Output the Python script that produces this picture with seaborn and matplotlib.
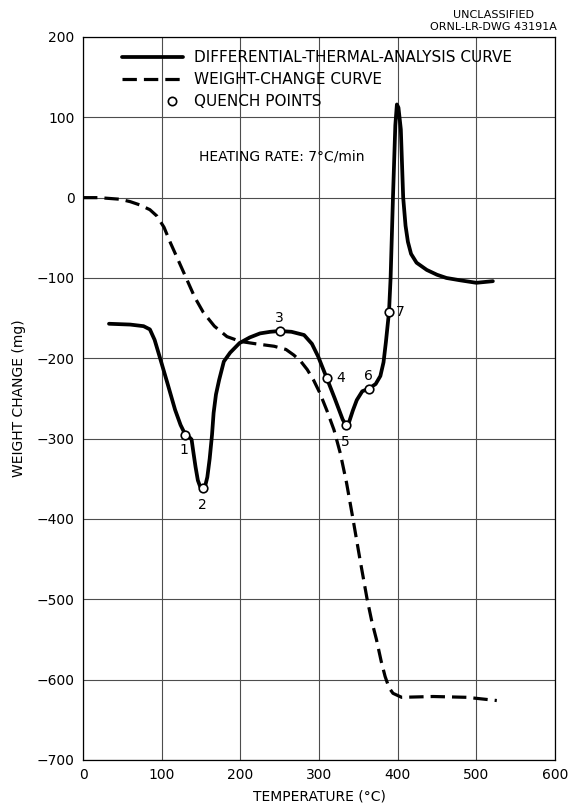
import matplotlib
matplotlib.use("Agg")
import matplotlib.pyplot as plt
import seaborn as sns
import pandas as pd
from matplotlib.lines import Line2D
from matplotlib.legend_handler import HandlerLine2D

# ---- data ----
dta_temp = [33, 60, 77, 85, 91, 98, 107, 117, 124, 130, 134, 138, 140, 143, 146, 149, 152, 155,
            158, 161, 164, 166, 169, 173, 179, 187, 199, 212, 225, 238, 250, 265, 281, 291, 299,
            310, 320, 330, 334, 338, 343, 348, 355, 363, 372, 378, 382, 385, 389, 391, 394, 397,
            399, 401, 404, 407, 410, 413, 417, 424, 437, 450, 462, 480, 500, 521]
dta_weight = [-157, -158, -160, -164, -177, -200, -230, -264, -283, -295, -297, -301, -315, -335,
              -352, -360, -362, -360, -348, -325, -295, -268, -245, -227, -204, -193, -181, -174,
              -169, -167, -166, -167, -171, -182, -198, -225, -250, -276, -283, -280, -265, -252,
              -241, -238, -232, -222, -205, -180, -142, -100, 0, 90, 116, 112, 85, 0, -35, -55,
              -70, -81, -90, -96, -100, -103, -106, -104]

wc_temp = [0, 20, 47, 60, 72, 85, 94, 103, 111, 122, 132, 142, 153, 167, 183, 200, 220, 243, 258,
           268, 277, 285, 293, 301, 310, 319, 327, 335, 343, 352, 361, 367, 373, 379, 384, 389,
           394, 405, 445, 488, 526]
wc_weight = [0, 0, -2, -5, -9, -15, -23, -37, -56, -80, -102, -124, -143, -160, -173, -179, -182,
             -185, -189, -196, -204, -214, -227, -243, -265, -289, -318, -355, -399, -450, -499,
             -527, -550, -577, -596, -610, -617, -622, -621, -622, -626]

quench_temp = [130, 152, 250, 310, 334, 363, 389]
quench_weight = [-295, -362, -166, -225, -283, -238, -142]
quench_labels = ["1", "2", "3", "4", "5", "6", "7"]
# label offsets in points (dx, dy)
quench_offsets = [(-1, -11), (0, -12), (0, 9), (10, 0), (0, -12), (0, 9), (8, 0)]

x_ticks = [0, 100, 200, 300, 400, 500, 600]
y_ticks = [200, 100, 0, -100, -200, -300, -400, -500, -600, -700]

dta_df = pd.DataFrame({"T": dta_temp, "W": dta_weight})
wc_df = pd.DataFrame({"T": wc_temp, "W": wc_weight})
q_df = pd.DataFrame({"T": quench_temp, "W": quench_weight})

sns.set_theme(style="white")
plt.rcParams["font.family"] = ["DejaVu Sans"]
plt.rcParams["text.color"] = "black"
plt.rcParams["axes.labelcolor"] = "black"


class RightMarkerHandler(HandlerLine2D):
    def get_xdata(self, legend, xdescent, ydescent, width, height, fontsize):
        p = -xdescent + 0.82 * width
        return [p - 0.5, p + 0.5], [p]


fig = plt.figure(figsize=(5.73, 8.09), dpi=100)
ax = fig.add_axes([0.1449, 0.0606, 0.8237, 0.8937])

sns.lineplot(data=wc_df, x="T", y="W", ax=ax, color="black", lw=2.3,
             linestyle=(0, (4.5, 2.2)), sort=False, estimator=None)
sns.lineplot(data=dta_df, x="T", y="W", ax=ax, color="black", lw=2.7,
             sort=False, estimator=None)
sns.scatterplot(data=q_df, x="T", y="W", ax=ax, s=38, facecolor="white",
                edgecolor="black", linewidth=1.2, zorder=5)

for t, w, lab, (dx, dy) in zip(quench_temp, quench_weight, quench_labels, quench_offsets):
    ax.annotate(lab, (t, w), xytext=(dx, dy), textcoords="offset points",
                ha="center", va="center", fontsize=10, color="black")

ax.set_xlim(0, 600)
ax.set_ylim(-700, 200)
ax.set_xticks(x_ticks)
ax.set_yticks(y_ticks)
ax.set_yticklabels([str(v).replace("-", "\u2212") for v in y_ticks])
ax.tick_params(axis="both", labelsize=10, colors="black", length=0, pad=6)
ax.grid(True, color="0.3", lw=0.8)
for sp in ax.spines.values():
    sp.set_color("black")
    sp.set_linewidth(0.9)

ax.set_xlabel("TEMPERATURE (°C)", fontsize=10, color="black", labelpad=5)
ax.set_ylabel("WEIGHT CHANGE (mg)", fontsize=10, color="black", labelpad=8)

ax.text(147, 51, "HEATING RATE: 7°C/min", fontsize=10, color="black", va="center", ha="left")

handles = [
    Line2D([], [], color="black", lw=2.7),
    Line2D([], [], color="black", lw=2.3, linestyle=(0, (4.5, 2.2))),
    Line2D([], [], color="black", lw=0, marker="o", markersize=6,
           markerfacecolor="white", markeredgecolor="black", markeredgewidth=1.2),
]
labels = ["DIFFERENTIAL-THERMAL-ANALYSIS CURVE", "WEIGHT-CHANGE CURVE", "QUENCH POINTS"]
leg = ax.legend(handles, labels, loc="upper left", bbox_to_anchor=(0.07, 0.99),
                frameon=False, fontsize=11, handlelength=4.0, handletextpad=0.7,
                labelspacing=0.45, borderaxespad=0.0, numpoints=1,
                handler_map={handles[2]: RightMarkerHandler()})
for txt in leg.get_texts():
    txt.set_color("black")

fig.text(0.862, 0.982, "UNCLASSIFIED", fontsize=8, ha="center", va="center", color="black")
fig.text(0.862, 0.967, "ORNL-LR-DWG 43191A", fontsize=8, ha="center", va="center", color="black")

fig.savefig("out.png", dpi=100, facecolor="white")
